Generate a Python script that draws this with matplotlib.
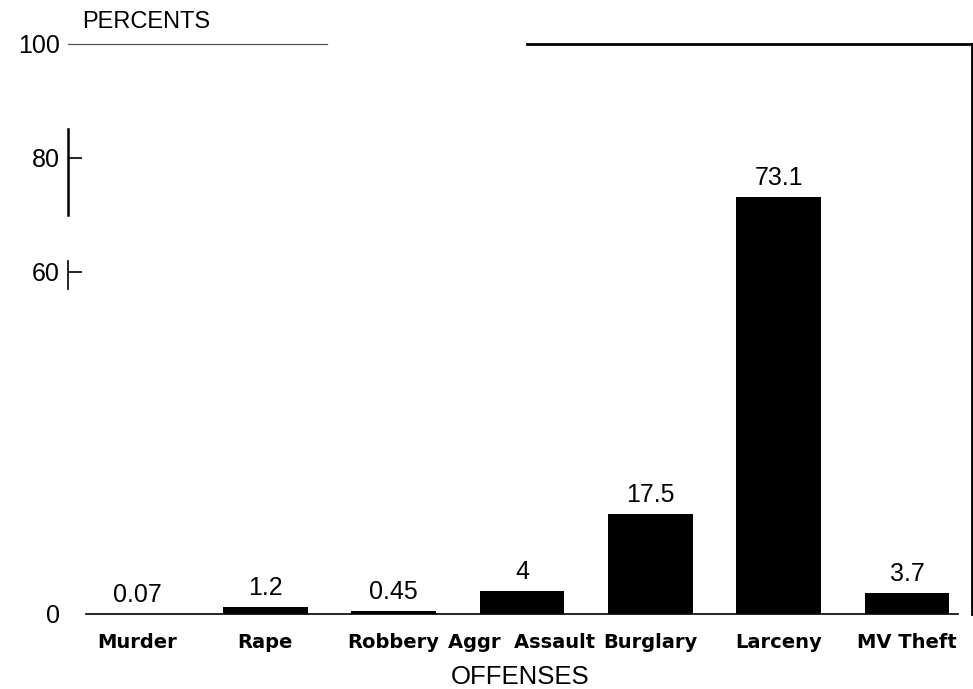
import matplotlib.pyplot as plt
import numpy as np

offenses = ['Murder', 'Rape', 'Robbery', 'Aggr  Assault', 'Burglary', 'Larceny', 'MV Theft']
percents = [0.07, 1.2, 0.45, 4, 17.5, 73.1, 3.7]
value_labels = ['0.07', '1.2', '0.45', '4', '17.5', '73.1', '3.7']
y_ticks = [0, 60, 80, 100]

plt.rcParams['font.family'] = ['Liberation Sans', 'DejaVu Sans']

fig = plt.figure(figsize=(9.73, 6.89), dpi=100)
ax = fig.add_axes([0.0699, 0.1089, 0.929, 0.8273])

x = np.arange(len(offenses))
ax.bar(x, percents, width=0.66, color='black')

for xi, v, txt in zip(x, percents, value_labels):
    ax.annotate(txt, (xi, v), xytext=(0, 5), textcoords='offset points',
                ha='center', va='bottom', fontsize=18)

ax.set_xlim(-0.537, 6.506)
ax.set_ylim(0, 100)

# scanned frame: broken top line, partial left axis
for side in ['top', 'left']:
    ax.spines[side].set_visible(False)
ax.spines['right'].set_linewidth(2)
ax.spines['bottom'].set_bounds(-0.4, 6.4)
ax.spines['bottom'].set_linewidth(1.2)
ax.axhline(100, xmin=0, xmax=0.286, color='#555555', lw=0.9, clip_on=False)
ax.axhline(100, xmin=0.508, xmax=1, color='black', lw=2, clip_on=False)
ax.axvline(-0.537, ymin=0.70, ymax=0.85, color='black', lw=1.8, clip_on=False)
ax.axvline(-0.537, ymin=0.57, ymax=0.62, color='black', lw=1.2, clip_on=False)

ax.set_yticks(y_ticks)
ax.set_yticklabels([str(t) for t in y_ticks], fontsize=18)
ax.tick_params(axis='y', direction='in', length=10, width=1.2, pad=6)
ticks = ax.yaxis.get_major_ticks()
ticks[0].tick1line.set_visible(False)
ticks[-1].tick1line.set_visible(False)

ax.set_xticks(x)
ax.set_xticklabels(offenses, fontsize=14, fontweight='bold', family='DejaVu Sans')
ax.tick_params(axis='x', length=0, pad=14)

ax.set_xlabel('OFFENSES', fontsize=18.5)
ax.xaxis.set_label_coords(0.5, -0.089)
fig.text(0.084, 0.952, 'PERCENTS', fontsize=17, ha='left', va='bottom')

fig.savefig('out.png', dpi=100)
